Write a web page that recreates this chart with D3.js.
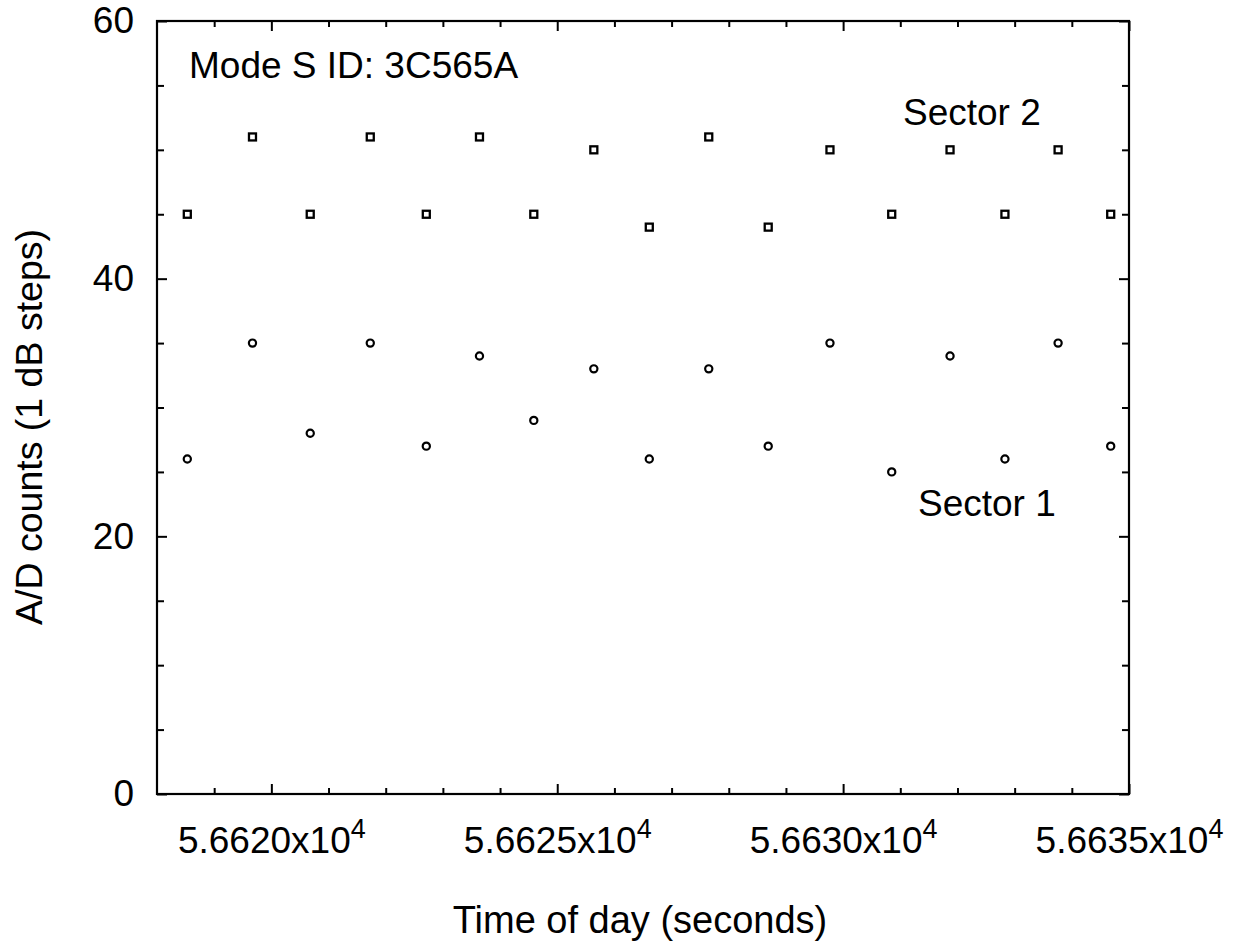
<!DOCTYPE html>
<html>
<head>
<meta charset="utf-8">
<script src="https://cdn.jsdelivr.net/npm/d3@7"></script>
<style>
  html, body { margin: 0; padding: 0; background: #fff; }
  svg { display: block; font-family: "Liberation Sans", Arial, Helvetica, sans-serif; }
</style>
</head>
<body>
<svg id="chart" width="1238" height="947"></svg>
<script>
// ---- data ----
const times = [56618.53, 56619.67, 56620.68, 56621.73, 56622.71, 56623.64, 56624.59, 56625.64,
               56626.61, 56627.65, 56628.69, 56629.77, 56630.85, 56631.87, 56632.83, 56633.76, 56634.68];
const sector2 = [45, 51, 45, 51, 45, 51, 45, 50, 44, 51, 44, 50, 45, 50, 45, 50, 45];
const sector1 = [26, 35, 28, 35, 27, 34, 29, 33, 26, 33, 27, 35, 25, 34, 26, 35, 27];
const xDomain = [56618, 56635];
const yDomain = [0, 60];
const xMajorTicks = [56620, 56625, 56630, 56635];
const xMinorTicks = d3.range(56619, 56635, 1).filter(v => !xMajorTicks.includes(v));
const yMajorTicks = [0, 20, 40, 60];
const yMinorTicks = [5, 10, 15, 25, 30, 35, 45, 50, 55];
const titleText = "Mode S ID: 3C565A";
const sector2Label = "Sector 2";
const sector1Label = "Sector 1";
const xTitle = "Time of day (seconds)";
const yTitle = "A/D counts (1 dB steps)";

// ---- layout ----
const margin = { left: 157, top: 21, right: 1238 - 1129, bottom: 947 - 794 };
const W = 1238, H = 947;
const iw = W - margin.left - margin.right;
const ih = H - margin.top - margin.bottom;

const svg = d3.select("#chart");
const g = svg.append("g").attr("transform", `translate(${margin.left},${margin.top})`);

const x = d3.scaleLinear().domain(xDomain).range([0, iw]);
const y = d3.scaleLinear().domain(yDomain).range([ih, 0]);

const FS = 37;

function styleAxis(sel) {
  sel.select(".domain").remove();
  sel.selectAll(".tick line").attr("stroke", "#000").attr("stroke-width", 2);
  sel.selectAll(".tick text").attr("fill", "#000").attr("font-size", FS)
     .attr("font-family", "Liberation Sans, Arial, sans-serif");
}

// bottom minor / major
g.append("g").attr("transform", `translate(0,${ih})`)
  .call(d3.axisBottom(x).tickValues(xMinorTicks).tickSize(-6).tickFormat(""))
  .call(styleAxis);
const xb = g.append("g").attr("transform", `translate(0,${ih})`)
  .call(d3.axisBottom(x).tickValues(xMajorTicks).tickSize(-10).tickPadding(33)
        .tickFormat(d => (d / 1e4).toFixed(4)))
  .call(styleAxis);
xb.selectAll(".tick text").each(function(d) {
  const t = d3.select(this);
  const m = (d / 1e4).toFixed(4);
  t.text(null);
  t.append("tspan").text(m + "x10");
  t.append("tspan").attr("dy", -15).attr("font-size", 27).text("4");
});
// top
g.append("g")
  .call(d3.axisTop(x).tickValues(xMinorTicks).tickSize(-6).tickFormat(""))
  .call(styleAxis);
g.append("g")
  .call(d3.axisTop(x).tickValues(xMajorTicks).tickSize(-10).tickFormat(""))
  .call(styleAxis);

// left
g.append("g")
  .call(d3.axisLeft(y).tickValues(yMinorTicks).tickSize(-7).tickFormat(""))
  .call(styleAxis);
g.append("g")
  .call(d3.axisLeft(y).tickValues(yMajorTicks).tickSize(-10).tickPadding(23).tickFormat(d3.format("d")))
  .call(styleAxis);
// right
g.append("g").attr("transform", `translate(${iw},0)`)
  .call(d3.axisRight(y).tickValues(yMinorTicks).tickSize(-7).tickFormat(""))
  .call(styleAxis);
g.append("g").attr("transform", `translate(${iw},0)`)
  .call(d3.axisRight(y).tickValues(yMajorTicks).tickSize(-10).tickFormat(""))
  .call(styleAxis);

// frame
g.append("rect").attr("x", 0).attr("y", 0).attr("width", iw).attr("height", ih)
  .attr("fill", "none").attr("stroke", "#000").attr("stroke-width", 2.2);

// markers
const s2 = times.map((t, i) => ({ t, v: sector2[i] }));
const s1 = times.map((t, i) => ({ t, v: sector1[i] }));
const sq = 7;
g.append("g").selectAll("rect").data(s2).join("rect")
  .attr("x", d => x(d.t) - sq / 2).attr("y", d => y(d.v) - sq / 2)
  .attr("width", sq).attr("height", sq)
  .attr("fill", "none").attr("stroke", "#000").attr("stroke-width", 2.3);
g.append("g").selectAll("circle").data(s1).join("circle")
  .attr("cx", d => x(d.t)).attr("cy", d => y(d.v)).attr("r", 3.6)
  .attr("fill", "none").attr("stroke", "#000").attr("stroke-width", 2.2);

// annotations
svg.append("text").attr("x", 189).attr("y", 78).attr("font-size", FS).attr("fill", "#000").text(titleText);
svg.append("text").attr("x", 903).attr("y", 125).attr("font-size", FS).attr("fill", "#000").text(sector2Label);
svg.append("text").attr("x", 918).attr("y", 516).attr("font-size", FS).attr("fill", "#000").text(sector1Label);

// axis titles
svg.append("text").attr("x", 640).attr("y", 933).attr("text-anchor", "middle")
  .attr("font-size", 38).attr("fill", "#000").text(xTitle);
svg.append("text").attr("transform", "translate(42,427) rotate(-90)").attr("text-anchor", "middle")
  .attr("font-size", 37.5).attr("fill", "#000").text(yTitle);
</script>
</body>
</html>
